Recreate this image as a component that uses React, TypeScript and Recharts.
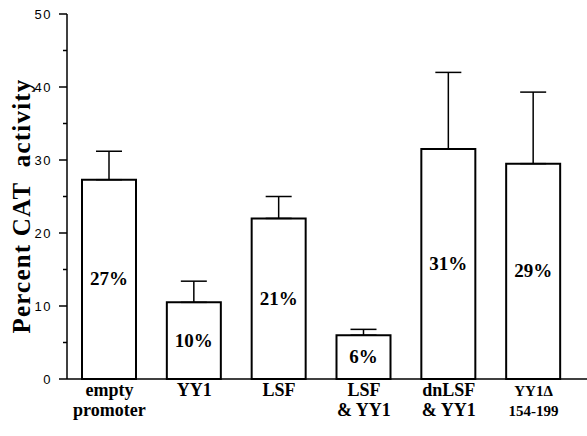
import { BarChart, Bar, XAxis, YAxis, ErrorBar, LabelList } from 'recharts'

// Transfection results
const categories = [['empty', 'promoter'], ['YY1'], ['LSF'], ['LSF', '& YY1'], ['dnLSF', '& YY1'], ['YY1Δ', '154-199']]
const activity = [27.3, 10.5, 22.0, 6.0, 31.5, 29.5]
const errorUp = [3.9, 2.9, 3.0, 0.8, 10.5, 9.8]
const barLabels = ['27%', '10%', '21%', '6%', '31%', '29%']
const yTicks = [0, 5, 10, 15, 20, 25, 30, 35, 40, 45, 50]

const data = categories.map((lines, i) => ({
  label: lines.join('|'),
  value: activity[i],
  err: [0, errorUp[i]],
  pct: barLabels[i],
}))

const serif = '"Liberation Serif", "Times New Roman", serif'
const sans = '"Liberation Sans", Arial, sans-serif'

function YTick({ x, y, payload }: any) {
  const major = payload.value % 10 === 0
  return (
    <g>
      <line x1={x - (major ? 8 : 4)} x2={x} y1={y} y2={y} stroke="#000" strokeWidth={1.5} />
      {major && (
        <text x={x - 15} y={y} dy={4.5} textAnchor="end" fontSize={13} fontFamily={sans} letterSpacing={1.5} fill="#000">
          {payload.value}
        </text>
      )}
    </g>
  )
}

function XTick({ x, y, payload, index }: any) {
  const lines = String(payload.value).split('|')
  const small = index === categories.length - 1
  return (
    <text x={x} y={y} textAnchor="middle" fontFamily={serif} fontWeight="bold" fontSize={small ? 15 : 18} fill="#000">
      {lines.map((l, i) => (
        <tspan key={i} x={x} dy={i === 0 ? 17 : 20}>
          {l}
        </tspan>
      ))}
    </text>
  )
}

function PctLabel({ x, y, width, height, value }: any) {
  return (
    <text x={x + width / 2} y={y + height / 2} dy={6} textAnchor="middle" fontFamily={serif} fontWeight="bold" fontSize={19} fill="#000">
      {value}
    </text>
  )
}

function YLabel() {
  const cy = 206
  return (
    <text
      x={22}
      y={cy}
      transform={`rotate(-90, 22, ${cy})`}
      dy={8}
      textAnchor="middle"
      fontFamily={serif}
      fontWeight="bold"
      fontSize={25}
      letterSpacing={1.2}
      style={{ whiteSpace: 'pre' }}
      fill="#000"
    >
      Percent CAT  activity
    </text>
  )
}

export default function App() {
  return (
    <div style={{ position: 'absolute', left: 0, top: 0, background: '#fff' }}>
      <BarChart width={587} height={436} data={data} margin={{ top: 14, right: 0, bottom: 0, left: 0 }} barSize={54}>
        <XAxis
          dataKey="label"
          height={57}
          padding={{ left: 0, right: 11 }}
          tickLine={false}
          tickSize={0}
          tickMargin={0}
          tick={<XTick />}
          axisLine={{ stroke: '#000', strokeWidth: 1.5 }}
          interval={0}
        />
        <YAxis
          width={67}
          domain={[0, 50]}
          ticks={yTicks}
          interval={0}
          tickLine={false}
          tickSize={0}
          tickMargin={0}
          tick={<YTick />}
          axisLine={{ stroke: '#000', strokeWidth: 1.5 }}
          label={<YLabel />}
        />
        <Bar dataKey="value" fill="#fff" stroke="#000" strokeWidth={2} isAnimationActive={false}>
          <ErrorBar dataKey="err" direction="y" width={13} stroke="#000" strokeWidth={1.5} />
          <LabelList dataKey="pct" content={<PctLabel />} />
        </Bar>
      </BarChart>
    </div>
  )
}
